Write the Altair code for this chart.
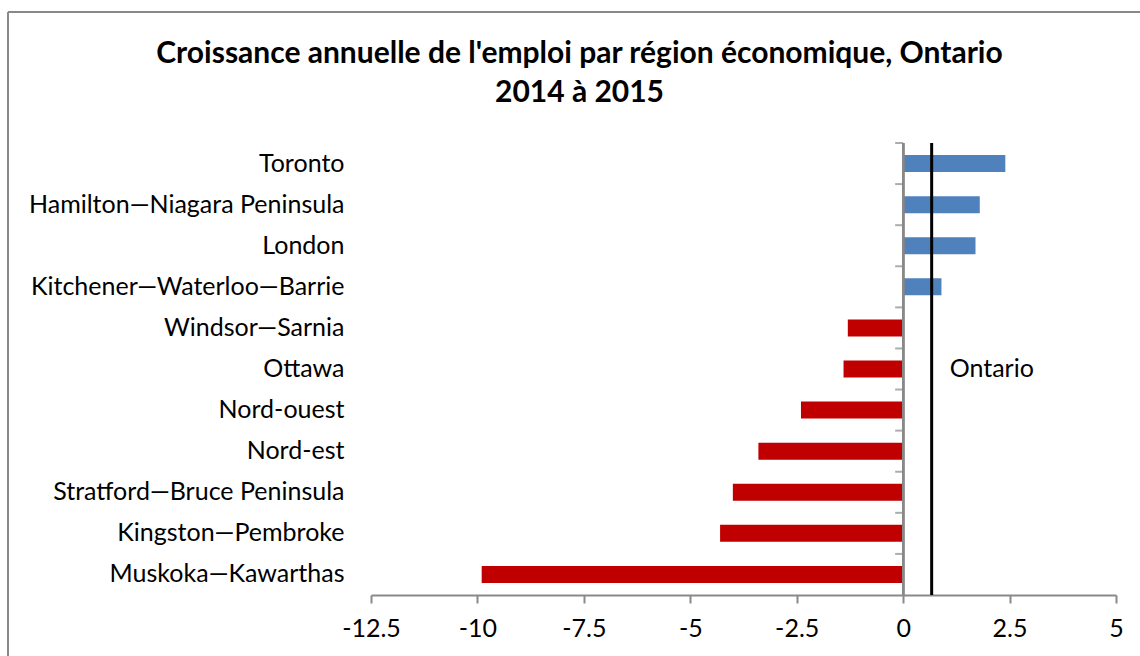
import altair as alt
import pandas as pd

regions = [
    "Toronto",
    "Hamilton—Niagara Peninsula",
    "London",
    "Kitchener—Waterloo—Barrie",
    "Windsor—Sarnia",
    "Ottawa",
    "Nord-ouest",
    "Nord-est",
    "Stratford—Bruce Peninsula",
    "Kingston—Pembroke",
    "Muskoka—Kawarthas",
]
growth = [2.4, 1.8, 1.7, 0.9, -1.3, -1.4, -2.4, -3.4, -4.0, -4.3, -9.9]
ontario_label = ["Ontario"]
ontario_value = [0.67]
x_ticks = [-12.5, -10, -7.5, -5, -2.5, 0, 2.5, 5]
title_lines = ["Croissance annuelle de l'emploi par région économique, Ontario", "2014 à 2015"]

W, H = 745, 452
LEFT, TOP, RIGHT, BOTTOM = 371, 143, 24, 61
FONT = "Lato"
GRAY = "#898989"
LABEL_SIZE = 25
STEP = H / len(regions)

df = pd.DataFrame({"region": regions, "growth": growth})
df["sign"] = ["pos" if v >= 0 else "neg" for v in growth]
ont = pd.DataFrame({"label": ontario_label, "value": ontario_value, "region": ["Ottawa"]})

xscale = alt.Scale(domain=[x_ticks[0], x_ticks[-1]], nice=False, zero=False)
yscale = alt.Scale(domain=regions, paddingInner=0, paddingOuter=0)

bars = alt.Chart(df).mark_bar(height=17).encode(
    x=alt.X("growth:Q", scale=xscale,
            axis=alt.Axis(values=x_ticks, labelExpr="'' + datum.value", grid=False,
                          domainColor=GRAY, domainWidth=2, tickColor=GRAY, tickWidth=2,
                          tickSize=8, labelFont=FONT, labelFontSize=LABEL_SIZE, labelColor="black",
                          labelPadding=13, labelFlush=False, title=None)),
    y=alt.Y("region:N", scale=yscale, sort=regions,
            axis=alt.Axis(orient="left", domain=False, ticks=False, tickSize=0,
                          labelPadding=27, labelFont=FONT, labelFontSize=LABEL_SIZE,
                          labelColor="black", labelLimit=500, title=None)),
    color=alt.Color("sign:N", scale=alt.Scale(domain=["pos", "neg"], range=["#4F81BD", "#C00000"]),
                    legend=None),
)

# vertical category axis line at zero with ticks at category boundaries
zero_line = alt.Chart(df).mark_rule(color=GRAY, strokeWidth=2).encode(
    x=alt.datum(0, scale=xscale),
)
zero_ticks = alt.Chart(df).mark_tick(orient="horizontal", size=8, thickness=2, color=GRAY,
                                     xOffset=-4, yOffset=-STEP / 2).encode(
    x=alt.datum(0, scale=xscale),
    y=alt.Y("region:N", scale=yscale, sort=regions),
)

rule = alt.Chart(ont).mark_rule(color="black", strokeWidth=3).encode(
    x=alt.X("value:Q", scale=xscale),
)

text = alt.Chart(ont).mark_text(align="left", baseline="middle", dx=18, font=FONT,
                                fontSize=LABEL_SIZE, color="black").encode(
    x=alt.X("value:Q", scale=xscale),
    y=alt.Y("region:N", scale=yscale, sort=regions),
    text="label:N",
)

frame_left = alt.Chart(ont).mark_rule(color=GRAY, strokeWidth=2).encode(
    x=alt.value(8 - LEFT), y=alt.value(12 - TOP), y2=alt.value(H + BOTTOM + 10)
)
frame_top = alt.Chart(ont).mark_rule(color=GRAY, strokeWidth=2).encode(
    x=alt.value(8 - LEFT), x2=alt.value(W + RIGHT + 10), y=alt.value(12 - TOP)
)

chart = alt.layer(bars, zero_line, zero_ticks, rule, text, frame_left, frame_top).properties(
    width=W, height=H,
    autosize=alt.AutoSizeParams(type="none"),
    padding={"left": LEFT, "top": TOP, "right": RIGHT, "bottom": BOTTOM},
    title=alt.Title(title_lines, font=FONT, fontSize=30, fontWeight="bold", color="black",
                    anchor="middle", dx=-164, offset=-97, lineHeight=39),
).configure_view(stroke=None)

chart.save("out.html", embed_options={"renderer": "svg", "actions": False})
